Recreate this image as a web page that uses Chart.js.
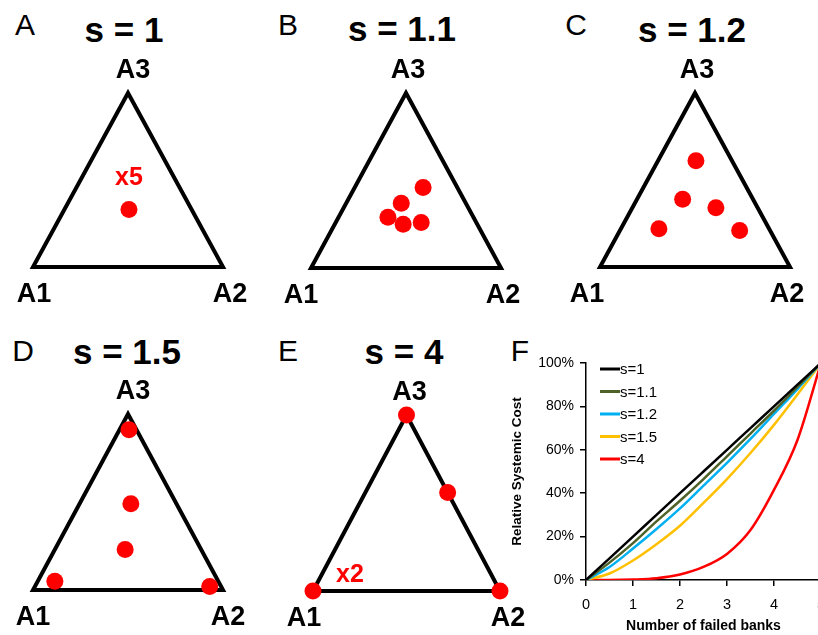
<!DOCTYPE html>
<html>
<head>
<meta charset="utf-8">
<script src="https://cdn.jsdelivr.net/npm/chart.js@4.4.1/dist/chart.umd.min.js"></script>
<style>
  html, body { margin: 0; padding: 0; background: #fff; overflow: hidden; }
  body { position: relative; width: 818px; height: 635px; font-family: "Liberation Sans", Arial, sans-serif; }
  canvas { position: absolute; }
  .lbl { position: absolute; line-height: 1; transform: translate(-50%, -50%); white-space: nowrap; color: #000; }
  .letter { font-size: 30px; }
  .title { font-size: 35px; font-weight: bold; }
</style>
</head>
<body>
<div class="lbl letter" style="left:25px;top:25px">A</div>
<div class="lbl title" style="left:124px;top:29px">s = 1</div>
<div class="lbl letter" style="left:288px;top:25px">B</div>
<div class="lbl title" style="left:402px;top:28px">s = 1.1</div>
<div class="lbl letter" style="left:576px;top:25px">C</div>
<div class="lbl title" style="left:692px;top:29px">s = 1.2</div>
<div class="lbl letter" style="left:23px;top:351px">D</div>
<div class="lbl title" style="left:127px;top:351px">s = 1.5</div>
<div class="lbl letter" style="left:288px;top:351px">E</div>
<div class="lbl title" style="left:404px;top:351px">s = 4</div>
<div class="lbl letter" style="left:520px;top:351px">F</div>

<canvas id="triA"></canvas>
<canvas id="triB"></canvas>
<canvas id="triC"></canvas>
<canvas id="triD"></canvas>
<canvas id="triE"></canvas>
<canvas id="costChart"></canvas>

<script>
// corners of the simplex
const vertexNames = ['A1', 'A2', 'A3'];

// bank allocations, as shares of A1, A2, A3, one row per point
const sharesS1 = [[0.33, 0.34, 0.33]];
const countsS1 = [5];
const sharesS11 = [[0.18, 0.36, 0.46], [0.34, 0.29, 0.37], [0.45, 0.26, 0.29], [0.39, 0.36, 0.25], [0.29, 0.45, 0.26]];
const countsS11 = [1, 1, 1, 1, 1];
const sharesS12 = [[0.19, 0.20, 0.61], [0.37, 0.24, 0.39], [0.22, 0.44, 0.34], [0.58, 0.20, 0.22], [0.16, 0.63, 0.21]];
const countsS12 = [1, 1, 1, 1, 1];
const sharesS15 = [[0.04, 0.05, 0.91], [0.24, 0.27, 0.49], [0.40, 0.37, 0.23], [0.86, 0.09, 0.05], [0.06, 0.92, 0.02]];
const countsS15 = [1, 1, 1, 1, 1];
const sharesS4 = [[0, 0, 1], [0, 0.44, 0.56], [1, 0, 0], [0, 1, 0]];
const countsS4 = [1, 1, 2, 1];

// panel F
const failedBanks = [0, 0.5, 1, 1.5, 2, 2.5, 3, 3.5, 4, 4.5, 5];
const costS1  = [0, 10, 20, 30, 40, 50, 60, 70, 80, 90, 100];
const costS11 = [0, 8, 17, 27, 36.5, 46.5, 57, 67.5, 78, 89, 100];
const costS12 = [0, 6, 14.5, 23.5, 33, 43.5, 54, 65, 76.5, 88, 100];
const costS15 = [0, 3, 9, 16.5, 25, 35.5, 46.5, 58.5, 71.5, 85.5, 100];
const costS4  = [0, 0, 0.2, 0.8, 2.5, 6, 12, 23, 41.5, 64.5, 100];
const yTicks = [0, 20, 40, 60, 80, 100];

// page boxes of the triangles (layout only)
const panels = [
  { id: 'triA', shares: sharesS1,  counts: countsS1,  box: [33, 223, 93, 267],  dx: [1, 7, 5],   cnt: [0, -32] },
  { id: 'triB', shares: sharesS11, counts: countsS11, box: [311, 501, 93, 268], dx: [-10, 2, 2], cnt: [0, -32] },
  { id: 'triC', shares: sharesS12, counts: countsS12, box: [600, 790, 93, 267], dx: [-13, -3, 2], cnt: [0, -32] },
  { id: 'triD', shares: sharesS15, counts: countsS15, box: [33, 223, 414, 590], dx: [0, 5, 5],   cnt: [0, -32] },
  { id: 'triE', shares: sharesS4,  counts: countsS4,  box: [313, 500, 415, 591], dx: [-9, 8, 3], cnt: [37, -17] }
];

const PAD_X = 40, PAD_Y = 50;

const vertexLabels = {
  id: 'vertexLabels',
  afterDraw(chart, args, opts) {
    const ctx = chart.ctx;
    const sx = chart.scales.x, sy = chart.scales.y;
    const corners = [[0, 0, 27], [1, 0, 27], [0.5, 1, -23]];
    ctx.save();
    ctx.textAlign = 'center';
    ctx.textBaseline = 'middle';
    ctx.fillStyle = '#000';
    ctx.font = 'bold 27px "Liberation Sans", Arial, sans-serif';
    corners.forEach((c, i) => {
      ctx.fillText(vertexNames[i], sx.getPixelForValue(c[0]) + opts.dx[i], sy.getPixelForValue(c[1]) + c[2] + 1);
    });
    ctx.fillStyle = '#ff0000';
    ctx.font = 'bold 25px "Liberation Sans", Arial, sans-serif';
    const pts = chart.data.datasets[0].data;
    opts.counts.forEach((n, i) => {
      if (n > 1) {
        ctx.fillText('x' + n, sx.getPixelForValue(pts[i].x) + opts.cnt[0], sy.getPixelForValue(pts[i].y) + opts.cnt[1] + 1);
      }
    });
    ctx.restore();
  }
};

function makeTriangle(p) {
  const [l, r, t, b] = p.box;
  const cv = document.getElementById(p.id);
  cv.width = r - l + 2 * PAD_X;
  cv.height = b - t + 2 * PAD_Y;
  cv.style.left = (l - PAD_X) + 'px';
  cv.style.top = (t - PAD_Y) + 'px';
  const pts = p.shares.map(s => ({ x: s[1] + s[2] / 2, y: s[2] }));
  const c = [{ x: 0, y: 0 }, { x: 1, y: 0 }, { x: 0.5, y: 1 }];
  new Chart(cv, {
    type: 'scatter',
    data: {
      datasets: [
        { data: pts, pointRadius: 8.5, pointBackgroundColor: '#ff0000', pointBorderWidth: 0, clip: false },
        { data: [c[0], c[1], c[2], c[0], c[1]], showLine: true, borderColor: '#000', borderWidth: 4,
          borderJoinStyle: 'miter', pointRadius: 0, clip: false }
      ]
    },
    options: {
      responsive: false,
      animation: false,
      events: [],
      layout: { padding: { left: PAD_X, right: PAD_X, top: PAD_Y, bottom: PAD_Y } },
      scales: {
        x: { type: 'linear', min: 0, max: 1, display: false },
        y: { type: 'linear', min: 0, max: 1, display: false }
      },
      plugins: {
        legend: { display: false },
        tooltip: { enabled: false },
        vertexLabels: { dx: p.dx, cnt: p.cnt, counts: p.counts }
      }
    },
    plugins: [vertexLabels]
  });
}

panels.forEach(makeTriangle);

// legend drawn inside the plot, top-left
const innerLegend = {
  id: 'innerLegend',
  afterDraw(chart) {
    const ctx = chart.ctx;
    const a = chart.chartArea;
    ctx.save();
    ctx.font = '15px "Liberation Sans", Arial, sans-serif';
    ctx.textBaseline = 'middle';
    ctx.fillStyle = '#000';
    chart.data.datasets.forEach((ds, i) => {
      const y = a.top + 6 + i * 22.5;
      ctx.strokeStyle = ds.borderColor;
      ctx.lineWidth = 3;
      ctx.beginPath();
      ctx.moveTo(a.left + 14, y);
      ctx.lineTo(a.left + 34, y);
      ctx.stroke();
      ctx.fillText(ds.label, a.left + 34, y + 1);
    });
    ctx.restore();
  }
};

function series(vals) {
  return failedBanks.map((x, i) => ({ x: x, y: vals[i] }));
}

function curve(label, vals, color) {
  return {
    label: label, data: series(vals), borderColor: color, borderWidth: 2.5,
    cubicInterpolationMode: 'monotone', tension: 0.4, pointRadius: 0, fill: false
  };
}

const cf = document.getElementById('costChart');
cf.width = 330;
cf.height = 300;
cf.style.left = '505px';
cf.style.top = '335px';

new Chart(cf, {
  type: 'line',
  data: {
    datasets: [
      curve('s=1',   costS1,  '#000000'),
      curve('s=1.1', costS11, '#4f6228'),
      curve('s=1.2', costS12, '#00b0f0'),
      curve('s=1.5', costS15, '#ffc000'),
      curve('s=4',   costS4,  '#ff0000')
    ]
  },
  options: {
    responsive: false,
    animation: false,
    events: [],
    layout: { padding: { top: 28, right: 14 } },
    plugins: { legend: { display: false }, tooltip: { enabled: false } },
    scales: {
      x: {
        type: 'linear', min: 0, max: 5,
        ticks: { stepSize: 1, color: '#000', font: { size: 14.5, family: '"Liberation Sans", Arial' }, padding: 10 },
        grid: { drawOnChartArea: false, tickLength: 6, color: '#000', lineWidth: 1.5 },
        border: { color: '#000', width: 1.5 },
        title: { display: true, text: 'Number of failed banks', color: '#000',
                 font: { size: 14, weight: 'bold', family: '"Liberation Sans", Arial' }, padding: { top: 4, bottom: 0 } },
        afterFit(s) { s.height = 55; }
      },
      y: {
        type: 'linear', min: 0, max: 100,
        afterBuildTicks(s) { s.ticks = yTicks.map(v => ({ value: v })); },
        ticks: { color: '#000', font: { size: 14, family: '"Liberation Sans", Arial' }, padding: 6,
                 callback: v => v + '%' },
        grid: { drawOnChartArea: false, tickLength: 6, color: '#000', lineWidth: 1.5 },
        border: { color: '#000', width: 1.5 },
        title: { display: true, text: 'Relative Systemic Cost', color: '#000',
                 font: { size: 13.5, weight: 'bold', family: '"Liberation Sans", Arial' }, padding: 4 },
        afterFit(s) { s.width = 81; }
      }
    }
  },
  plugins: [innerLegend]
});
</script>
</body>
</html>
